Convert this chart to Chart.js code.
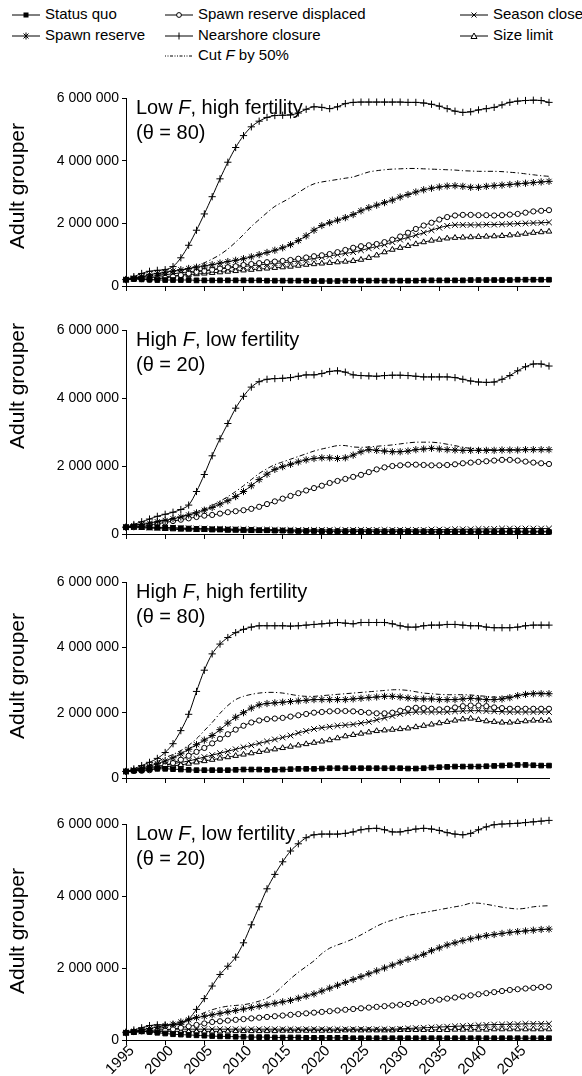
<!DOCTYPE html>
<html>
<head>
<meta charset="utf-8">
<script src="https://cdn.jsdelivr.net/npm/chart.js@4.4.0/dist/chart.umd.min.js"></script>
<style>
  body { margin: 0; background: #fff; font-family: 'Liberation Sans', Arial, sans-serif; }
  #page { position: relative; width: 582px; height: 1076px; overflow: hidden; background: #fff; }
  .panel { position: absolute; left: 0; }
  .item { position: absolute; height: 20px; line-height: 20px; font-size: 15px; white-space: nowrap;
          display: flex; align-items: center; color: #000; }
  .item svg { margin-right: 5px; margin-top: 2px; }
</style>
</head>
<body>
<div id="page">
  <div id="legend"></div>
  <div class="panel" id="w1"><canvas id="c1"></canvas></div>
  <div class="panel" id="w2"><canvas id="c2"></canvas></div>
  <div class="panel" id="w3"><canvas id="c3"></canvas></div>
  <div class="panel" id="w4"><canvas id="c4"></canvas></div>
</div>
<script>
// Adult grouper abundance under management scenarios (values in millions)

const years = [
	1995, 1996, 1997, 1998, 1999, 2000, 2001, 2002, 2003, 2004,
	2005, 2006, 2007, 2008, 2009, 2010, 2011, 2012, 2013, 2014,
	2015, 2016, 2017, 2018, 2019, 2020, 2021, 2022, 2023, 2024,
	2025, 2026, 2027, 2028, 2029, 2030, 2031, 2032, 2033, 2034,
	2035, 2036, 2037, 2038, 2039, 2040, 2041, 2042, 2043, 2044,
	2045, 2046, 2047, 2048, 2049
];
const xTicks = [1995, 2000, 2005, 2010, 2015, 2020, 2025, 2030, 2035, 2040, 2045];
const yTicks = [0, 2, 4, 6];

const seriesNames = ['Status quo', 'Spawn reserve', 'Spawn reserve displaced', 'Nearshore closure',
	'Cut F by 50%', 'Season close', 'Size limit'];

// --- Low F, high fertility (theta = 80)
const p1StatusQuo = [
	0.20, 0.22, 0.21, 0.20, 0.19, 0.19, 0.19, 0.19, 0.19, 0.18,
	0.18, 0.18, 0.18, 0.18, 0.18, 0.18, 0.18, 0.18, 0.17, 0.17,
	0.17, 0.17, 0.17, 0.17, 0.16, 0.16, 0.16, 0.16, 0.17, 0.17,
	0.17, 0.17, 0.17, 0.17, 0.17, 0.17, 0.17, 0.17, 0.18, 0.18,
	0.18, 0.18, 0.18, 0.18, 0.19, 0.19, 0.19, 0.19, 0.19, 0.19,
	0.20, 0.20, 0.20, 0.20, 0.20
];
const p1SpawnRes = [
	0.20, 0.25, 0.30, 0.36, 0.40, 0.44, 0.48, 0.52, 0.56, 0.60,
	0.64, 0.68, 0.73, 0.78, 0.82, 0.87, 0.93, 1.00, 1.07, 1.14,
	1.22, 1.32, 1.45, 1.60, 1.78, 1.93, 2.02, 2.10, 2.18, 2.28,
	2.40, 2.50, 2.58, 2.66, 2.74, 2.84, 2.92, 3.00, 3.07, 3.12,
	3.16, 3.19, 3.20, 3.18, 3.15, 3.15, 3.18, 3.20, 3.22, 3.24,
	3.26, 3.28, 3.30, 3.32, 3.34
];
const p1Displaced = [
	0.20, 0.24, 0.22, 0.20, 0.22, 0.26, 0.30, 0.35, 0.40, 0.45,
	0.48, 0.52, 0.56, 0.60, 0.63, 0.67, 0.70, 0.73, 0.76, 0.78,
	0.80, 0.83, 0.87, 0.91, 0.95, 0.98, 1.02, 1.08, 1.15, 1.22,
	1.27, 1.30, 1.34, 1.40, 1.48, 1.58, 1.70, 1.82, 1.93, 2.02,
	2.12, 2.20, 2.25, 2.27, 2.27, 2.26, 2.26, 2.25, 2.26, 2.28,
	2.30, 2.34, 2.38, 2.40, 2.42
];
const p1Nearshore = [
	0.21, 0.30, 0.40, 0.47, 0.50, 0.52, 0.62, 0.90, 1.30, 1.78,
	2.30, 2.85, 3.42, 3.95, 4.42, 4.80, 5.08, 5.26, 5.38, 5.44,
	5.45, 5.46, 5.52, 5.64, 5.72, 5.70, 5.66, 5.72, 5.82, 5.86,
	5.87, 5.87, 5.87, 5.87, 5.87, 5.87, 5.86, 5.86, 5.84, 5.80,
	5.74, 5.66, 5.58, 5.54, 5.56, 5.62, 5.66, 5.70, 5.78, 5.86,
	5.90, 5.92, 5.93, 5.92, 5.86
];
const p1CutF = [
	0.20, 0.24, 0.28, 0.32, 0.36, 0.40, 0.45, 0.50, 0.56, 0.64,
	0.74, 0.86, 1.00, 1.18, 1.40, 1.64, 1.90, 2.12, 2.34, 2.54,
	2.68, 2.82, 2.98, 3.14, 3.26, 3.32, 3.36, 3.40, 3.44, 3.48,
	3.56, 3.64, 3.68, 3.71, 3.73, 3.74, 3.75, 3.75, 3.74, 3.73,
	3.72, 3.71, 3.70, 3.68, 3.67, 3.66, 3.66, 3.66, 3.65, 3.63,
	3.61, 3.58, 3.55, 3.52, 3.50
];
const p1SeasonClose = [
	0.20, 0.24, 0.28, 0.30, 0.33, 0.36, 0.39, 0.42, 0.45, 0.48,
	0.50, 0.52, 0.55, 0.57, 0.60, 0.62, 0.65, 0.67, 0.70, 0.72,
	0.74, 0.77, 0.80, 0.84, 0.88, 0.92, 0.96, 1.00, 1.04, 1.08,
	1.14, 1.20, 1.26, 1.32, 1.40, 1.48, 1.55, 1.62, 1.70, 1.78,
	1.86, 1.92, 1.95, 1.95, 1.95, 1.95, 1.96, 1.96, 1.97, 1.98,
	1.99, 2.00, 2.01, 2.02, 2.03
];
const p1SizeLimit = [
	0.20, 0.22, 0.24, 0.26, 0.28, 0.30, 0.32, 0.34, 0.36, 0.38,
	0.40, 0.42, 0.44, 0.46, 0.48, 0.50, 0.52, 0.54, 0.56, 0.58,
	0.60, 0.62, 0.65, 0.68, 0.70, 0.72, 0.74, 0.76, 0.78, 0.80,
	0.84, 0.90, 0.98, 1.08, 1.16, 1.22, 1.28, 1.34, 1.40, 1.45,
	1.48, 1.52, 1.54, 1.55, 1.56, 1.57, 1.58, 1.59, 1.60, 1.62,
	1.64, 1.67, 1.70, 1.72, 1.74
];

// --- High F, low fertility (theta = 20)
const p2StatusQuo = [
	0.20, 0.22, 0.22, 0.20, 0.20, 0.19, 0.18, 0.17, 0.16, 0.15,
	0.15, 0.14, 0.14, 0.13, 0.13, 0.12, 0.12, 0.11, 0.11, 0.10,
	0.10, 0.10, 0.09, 0.09, 0.09, 0.08, 0.08, 0.08, 0.08, 0.08,
	0.07, 0.07, 0.07, 0.07, 0.07, 0.07, 0.07, 0.06, 0.06, 0.06,
	0.06, 0.06, 0.06, 0.06, 0.06, 0.06, 0.06, 0.06, 0.06, 0.06,
	0.06, 0.06, 0.06, 0.06, 0.06
];
const p2SpawnRes = [
	0.20, 0.24, 0.28, 0.32, 0.36, 0.40, 0.45, 0.50, 0.56, 0.62,
	0.70, 0.78, 0.88, 0.98, 1.10, 1.25, 1.42, 1.60, 1.76, 1.90,
	1.98, 2.05, 2.12, 2.18, 2.22, 2.24, 2.24, 2.22, 2.24, 2.32,
	2.42, 2.48, 2.46, 2.44, 2.42, 2.42, 2.44, 2.48, 2.50, 2.52,
	2.50, 2.48, 2.47, 2.46, 2.46, 2.46, 2.46, 2.46, 2.47, 2.47,
	2.47, 2.48, 2.48, 2.48, 2.48
];
const p2Displaced = [
	0.20, 0.20, 0.22, 0.26, 0.30, 0.34, 0.38, 0.42, 0.46, 0.50,
	0.54, 0.56, 0.60, 0.64, 0.67, 0.70, 0.74, 0.80, 0.88, 0.96,
	1.04, 1.12, 1.20, 1.28, 1.35, 1.42, 1.50, 1.56, 1.62, 1.68,
	1.74, 1.82, 1.90, 1.96, 2.00, 2.02, 2.04, 2.04, 2.03, 2.02,
	2.02, 2.03, 2.05, 2.08, 2.10, 2.12, 2.14, 2.16, 2.18, 2.18,
	2.16, 2.13, 2.10, 2.08, 2.06
];
const p2Nearshore = [
	0.20, 0.28, 0.36, 0.44, 0.52, 0.58, 0.64, 0.72, 0.85, 1.25,
	1.75, 2.30, 2.80, 3.25, 3.70, 4.05, 4.32, 4.48, 4.55, 4.57,
	4.58, 4.60, 4.64, 4.68, 4.68, 4.72, 4.78, 4.80, 4.76, 4.68,
	4.66, 4.65, 4.64, 4.66, 4.67, 4.67, 4.66, 4.64, 4.62, 4.62,
	4.62, 4.62, 4.60, 4.55, 4.50, 4.47, 4.46, 4.47, 4.55, 4.66,
	4.80, 4.92, 5.00, 5.00, 4.94
];
const p2CutF = [
	0.20, 0.25, 0.30, 0.34, 0.38, 0.42, 0.47, 0.52, 0.58, 0.66,
	0.74, 0.84, 0.96, 1.10, 1.25, 1.42, 1.60, 1.78, 1.92, 2.04,
	2.12, 2.20, 2.28, 2.36, 2.44, 2.50, 2.55, 2.60, 2.60, 2.56,
	2.55, 2.56, 2.58, 2.60, 2.62, 2.65, 2.68, 2.70, 2.70, 2.70,
	2.68, 2.64, 2.60, 2.55, 2.52, 2.50, 2.48, 2.48, 2.48, 2.48,
	2.48, 2.48, 2.48, 2.48, 2.48
];
const p2SeasonClose = [
	0.20, 0.20, 0.20, 0.19, 0.19, 0.18, 0.18, 0.17, 0.17, 0.16,
	0.16, 0.15, 0.15, 0.15, 0.14, 0.14, 0.14, 0.13, 0.13, 0.13,
	0.12, 0.12, 0.12, 0.12, 0.12, 0.12, 0.12, 0.12, 0.12, 0.12,
	0.12, 0.12, 0.12, 0.12, 0.12, 0.12, 0.12, 0.12, 0.12, 0.13,
	0.13, 0.13, 0.14, 0.14, 0.14, 0.15, 0.15, 0.15, 0.16, 0.16,
	0.16, 0.16, 0.16, 0.16, 0.16
];
const p2SizeLimit = [
	0.20, 0.19, 0.18, 0.17, 0.16, 0.15, 0.14, 0.13, 0.13, 0.12,
	0.12, 0.11, 0.11, 0.10, 0.10, 0.10, 0.09, 0.09, 0.09, 0.09,
	0.09, 0.08, 0.08, 0.08, 0.08, 0.08, 0.08, 0.08, 0.08, 0.08,
	0.08, 0.08, 0.08, 0.08, 0.08, 0.08, 0.08, 0.08, 0.08, 0.08,
	0.08, 0.08, 0.08, 0.08, 0.08, 0.08, 0.08, 0.08, 0.08, 0.08,
	0.08, 0.08, 0.08, 0.08, 0.08
];

// --- High F, high fertility (theta = 80)
const p3StatusQuo = [
	0.20, 0.22, 0.24, 0.26, 0.28, 0.28, 0.27, 0.26, 0.25, 0.24,
	0.24, 0.24, 0.24, 0.24, 0.25, 0.26, 0.26, 0.26, 0.25, 0.25,
	0.26, 0.27, 0.28, 0.28, 0.28, 0.29, 0.30, 0.30, 0.30, 0.30,
	0.30, 0.30, 0.30, 0.30, 0.30, 0.30, 0.29, 0.29, 0.30, 0.32,
	0.33, 0.34, 0.35, 0.35, 0.35, 0.35, 0.36, 0.37, 0.38, 0.39,
	0.40, 0.40, 0.39, 0.38, 0.38
];
const p3SpawnRes = [
	0.20, 0.24, 0.30, 0.36, 0.44, 0.52, 0.62, 0.74, 0.88, 1.02,
	1.16, 1.30, 1.48, 1.68, 1.86, 2.00, 2.14, 2.24, 2.28, 2.30,
	2.32, 2.34, 2.36, 2.38, 2.40, 2.40, 2.40, 2.40, 2.40, 2.42,
	2.44, 2.46, 2.48, 2.50, 2.50, 2.48, 2.45, 2.43, 2.42, 2.42,
	2.40, 2.40, 2.40, 2.42, 2.44, 2.42, 2.40, 2.40, 2.42, 2.46,
	2.52, 2.56, 2.58, 2.58, 2.58
];
const p3Displaced = [
	0.20, 0.22, 0.22, 0.24, 0.30, 0.38, 0.46, 0.56, 0.68, 0.80,
	0.92, 1.06, 1.20, 1.34, 1.48, 1.60, 1.70, 1.76, 1.80, 1.82,
	1.84, 1.88, 1.92, 1.96, 2.00, 2.02, 2.04, 2.05, 2.05, 2.04,
	2.02, 2.00, 1.98, 1.98, 2.00, 2.06, 2.12, 2.15, 2.14, 2.12,
	2.10, 2.12, 2.16, 2.20, 2.22, 2.22, 2.20, 2.16, 2.14, 2.12,
	2.12, 2.12, 2.12, 2.12, 2.12
];
const p3Nearshore = [
	0.20, 0.28, 0.38, 0.48, 0.60, 0.78, 1.05, 1.45, 1.95, 2.65,
	3.30, 3.80, 4.10, 4.30, 4.45, 4.55, 4.62, 4.66, 4.66, 4.66,
	4.66, 4.65, 4.66, 4.68, 4.70, 4.72, 4.74, 4.76, 4.74, 4.72,
	4.76, 4.76, 4.76, 4.76, 4.72, 4.66, 4.62, 4.62, 4.66, 4.68,
	4.68, 4.70, 4.70, 4.68, 4.66, 4.66, 4.62, 4.60, 4.60, 4.60,
	4.62, 4.66, 4.68, 4.68, 4.68
];
const p3CutF = [
	0.20, 0.26, 0.32, 0.40, 0.50, 0.62, 0.72, 0.84, 1.00, 1.20,
	1.45, 1.70, 1.98, 2.22, 2.40, 2.50, 2.56, 2.60, 2.62, 2.62,
	2.60, 2.56, 2.52, 2.50, 2.50, 2.52, 2.54, 2.56, 2.58, 2.60,
	2.62, 2.64, 2.66, 2.68, 2.70, 2.70, 2.68, 2.64, 2.60, 2.58,
	2.56, 2.55, 2.55, 2.55, 2.54, 2.52, 2.50, 2.48, 2.48, 2.50,
	2.54, 2.58, 2.60, 2.60, 2.60
];
const p3SeasonClose = [
	0.20, 0.24, 0.28, 0.32, 0.36, 0.40, 0.44, 0.48, 0.52, 0.58,
	0.64, 0.70, 0.76, 0.82, 0.88, 0.94, 1.00, 1.06, 1.12, 1.18,
	1.24, 1.30, 1.38, 1.44, 1.50, 1.54, 1.57, 1.60, 1.62, 1.64,
	1.68, 1.72, 1.78, 1.84, 1.90, 1.96, 2.00, 2.02, 2.02, 2.02,
	2.02, 2.02, 2.04, 2.05, 2.06, 2.06, 2.05, 2.04, 2.03, 2.02,
	2.02, 2.02, 2.02, 2.02, 2.02
];
const p3SizeLimit = [
	0.20, 0.22, 0.26, 0.30, 0.32, 0.34, 0.37, 0.40, 0.44, 0.48,
	0.52, 0.56, 0.60, 0.64, 0.68, 0.72, 0.76, 0.80, 0.84, 0.88,
	0.92, 0.96, 1.00, 1.04, 1.08, 1.12, 1.16, 1.22, 1.28, 1.32,
	1.36, 1.40, 1.44, 1.46, 1.48, 1.50, 1.52, 1.56, 1.60, 1.64,
	1.68, 1.72, 1.76, 1.80, 1.82, 1.78, 1.74, 1.72, 1.70, 1.70,
	1.72, 1.74, 1.76, 1.76, 1.76
];

// --- Low F, low fertility (theta = 20)
const p4StatusQuo = [
	0.20, 0.22, 0.24, 0.22, 0.20, 0.18, 0.16, 0.15, 0.14, 0.13,
	0.12, 0.11, 0.10, 0.10, 0.09, 0.09, 0.08, 0.08, 0.08, 0.07,
	0.07, 0.07, 0.07, 0.06, 0.06, 0.06, 0.06, 0.06, 0.06, 0.05,
	0.05, 0.05, 0.05, 0.05, 0.05, 0.05, 0.05, 0.05, 0.05, 0.05,
	0.05, 0.05, 0.05, 0.05, 0.05, 0.05, 0.05, 0.05, 0.05, 0.05,
	0.05, 0.05, 0.05, 0.05, 0.05
];
const p4SpawnRes = [
	0.20, 0.24, 0.28, 0.32, 0.36, 0.40, 0.44, 0.50, 0.56, 0.62,
	0.66, 0.70, 0.74, 0.78, 0.82, 0.86, 0.90, 0.94, 0.98, 1.02,
	1.06, 1.10, 1.16, 1.22, 1.28, 1.36, 1.44, 1.52, 1.60, 1.68,
	1.76, 1.84, 1.92, 2.00, 2.08, 2.16, 2.24, 2.30, 2.38, 2.48,
	2.56, 2.64, 2.70, 2.76, 2.81, 2.86, 2.90, 2.93, 2.96, 2.99,
	3.01, 3.03, 3.05, 3.07, 3.08
];
const p4Displaced = [
	0.20, 0.22, 0.24, 0.24, 0.24, 0.26, 0.30, 0.34, 0.38, 0.42,
	0.46, 0.50, 0.52, 0.54, 0.56, 0.58, 0.60, 0.62, 0.64, 0.66,
	0.68, 0.70, 0.72, 0.74, 0.76, 0.78, 0.80, 0.82, 0.84, 0.86,
	0.88, 0.90, 0.92, 0.94, 0.96, 0.98, 1.00, 1.03, 1.06, 1.09,
	1.12, 1.15, 1.18, 1.21, 1.24, 1.27, 1.30, 1.33, 1.36, 1.39,
	1.41, 1.43, 1.45, 1.47, 1.48
];
const p4Nearshore = [
	0.22, 0.28, 0.34, 0.40, 0.42, 0.42, 0.42, 0.44, 0.58, 0.85,
	1.15, 1.50, 1.82, 2.05, 2.30, 2.70, 3.20, 3.70, 4.20, 4.60,
	4.95, 5.25, 5.45, 5.62, 5.70, 5.72, 5.72, 5.72, 5.74, 5.78,
	5.84, 5.87, 5.88, 5.84, 5.78, 5.78, 5.82, 5.86, 5.88, 5.86,
	5.82, 5.76, 5.72, 5.70, 5.74, 5.84, 5.92, 5.98, 6.00, 6.01,
	6.02, 6.04, 6.06, 6.08, 6.10
];
const p4CutF = [
	0.20, 0.24, 0.28, 0.30, 0.32, 0.35, 0.40, 0.48, 0.56, 0.66,
	0.76, 0.84, 0.90, 0.94, 0.96, 0.98, 1.02, 1.08, 1.16, 1.30,
	1.50, 1.70, 1.88, 2.04, 2.20, 2.40, 2.55, 2.64, 2.72, 2.81,
	2.92, 3.04, 3.16, 3.26, 3.33, 3.40, 3.46, 3.50, 3.54, 3.58,
	3.62, 3.66, 3.70, 3.74, 3.80, 3.80, 3.77, 3.73, 3.69, 3.66,
	3.64, 3.66, 3.70, 3.72, 3.73
];
const p4SeasonClose = [
	0.20, 0.22, 0.24, 0.26, 0.28, 0.29, 0.30, 0.30, 0.30, 0.30,
	0.30, 0.30, 0.30, 0.30, 0.30, 0.30, 0.30, 0.30, 0.30, 0.30,
	0.30, 0.30, 0.30, 0.30, 0.30, 0.30, 0.30, 0.30, 0.30, 0.30,
	0.30, 0.30, 0.30, 0.30, 0.30, 0.31, 0.32, 0.33, 0.34, 0.35,
	0.36, 0.37, 0.38, 0.39, 0.40, 0.41, 0.42, 0.43, 0.43, 0.44,
	0.44, 0.45, 0.45, 0.45, 0.45
];
const p4SizeLimit = [
	0.20, 0.22, 0.23, 0.24, 0.24, 0.24, 0.24, 0.24, 0.24, 0.24,
	0.24, 0.24, 0.24, 0.24, 0.25, 0.25, 0.25, 0.25, 0.25, 0.25,
	0.26, 0.26, 0.26, 0.26, 0.26, 0.26, 0.26, 0.26, 0.27, 0.27,
	0.27, 0.27, 0.27, 0.27, 0.27, 0.28, 0.28, 0.28, 0.28, 0.28,
	0.28, 0.28, 0.29, 0.29, 0.29, 0.29, 0.29, 0.30, 0.30, 0.30,
	0.30, 0.30, 0.30, 0.30, 0.30
];

const panels = [
	{ note: [['Low ', false], ['F', true], [', high fertility', false]], theta: '(\u03b8 = 80)',
	  top: 98, bottom: 286, titleY: 186,
	  series: [p1StatusQuo, p1SpawnRes, p1Displaced, p1Nearshore, p1CutF, p1SeasonClose, p1SizeLimit] },
	{ note: [['High ', false], ['F', true], [', low fertility', false]], theta: '(\u03b8 = 20)',
	  top: 330, bottom: 534, titleY: 386,
	  series: [p2StatusQuo, p2SpawnRes, p2Displaced, p2Nearshore, p2CutF, p2SeasonClose, p2SizeLimit] },
	{ note: [['High ', false], ['F', true], [', high fertility', false]], theta: '(\u03b8 = 80)',
	  top: 582, bottom: 778, titleY: 676,
	  series: [p3StatusQuo, p3SpawnRes, p3Displaced, p3Nearshore, p3CutF, p3SeasonClose, p3SizeLimit] },
	{ note: [['Low ', false], ['F', true], [', low fertility', false]], theta: '(\u03b8 = 20)',
	  top: 824, bottom: 1040, titleY: 931,
	  series: [p4StatusQuo, p4SpawnRes, p4Displaced, p4Nearshore, p4CutF, p4SeasonClose, p4SizeLimit] }
];

// marker look for each scenario
const markStyles = [
	{ pointStyle: 'rect', radius: 3.3, fill: '#000' },
	{ pointStyle: 'star', radius: 3.6, fill: '#fff' },
	{ pointStyle: 'circle', radius: 2.6, fill: '#fff' },
	{ pointStyle: 'cross', radius: 3.6, fill: '#fff' },
	{ pointStyle: false, radius: 0, fill: '#fff', dash: [5, 2.5, 1.2, 2.5] },
	{ pointStyle: 'crossRot', radius: 4, fill: '#fff' },
	{ pointStyle: 'triangle', radius: 3.2, fill: '#fff' }
];

const FONT = "'Liberation Sans', Arial, sans-serif";
const PAD_TOP = 12;
const PLOT_LEFT = 126;
const PLOT_RIGHT = 549;
const X_MAX = 2049;

function fmtNum(v) {
	return String(Math.round(v * 1000000)).replace(/\B(?=(\d{3})+(?!\d))/g, ' ');
}

// ---------- legend ----------
const legendSlots = [
	[12, 4], [12, 25], [165, 4], [165, 25], [165, 45], [460, 4], [460, 25]
];

function glyph(i) {
	const s = markStyles[i];
	const line = '<line x1="0" y1="6" x2="28" y2="6" stroke="#000" stroke-width="1"' +
		(s.dash ? ' stroke-dasharray="1 1.5 1 1.5 3 1.5"' : '') + '/>';
	let mark = '';
	switch (s.pointStyle) {
		case 'rect': mark = '<rect x="11.5" y="3.5" width="5" height="5" fill="#000"/>'; break;
		case 'star': mark = '<path d="M14 2.5V9.5M11.5 3.5L16.5 8.5M16.5 3.5L11.5 8.5" stroke="#000"/>'; break;
		case 'circle': mark = '<circle cx="14" cy="6" r="2.4" fill="#fff" stroke="#000"/>'; break;
		case 'cross': mark = '<path d="M14 2.5V9.5" stroke="#000"/>'; break;
		case 'crossRot': mark = '<path d="M11.5 3.5L16.5 8.5M16.5 3.5L11.5 8.5" stroke="#000"/>'; break;
		case 'triangle': mark = '<path d="M14 3L17 8.5H11Z" fill="#fff" stroke="#000"/>'; break;
	}
	return '<svg width="28" height="12" viewBox="0 0 28 12">' + line + mark + '</svg>';
}

function buildLegend() {
	const el = document.getElementById('legend');
	seriesNames.forEach((name, i) => {
		const item = document.createElement('div');
		item.className = 'item';
		item.style.left = legendSlots[i][0] + 'px';
		item.style.top = legendSlots[i][1] + 'px';
		const label = name === 'Cut F by 50%' ? 'Cut <i>F</i> by 50%' : name;
		item.innerHTML = glyph(i) + '<span>' + label + '</span>';
		el.appendChild(item);
	});
}

// ---------- panel notes + y title ----------
function notesPlugin(p, canvasTop) {
	return {
		id: 'panelNotes',
		afterDraw(chart) {
			const { ctx, chartArea } = chart;
			ctx.save();
			ctx.fillStyle = '#000';
			ctx.textBaseline = 'alphabetic';
			ctx.textAlign = 'left';
			let x = chartArea.left + 10;
			p.note.forEach(([txt, italic]) => {
				ctx.font = (italic ? 'italic ' : '') + '20px ' + FONT;
				ctx.fillText(txt, x, chartArea.top + 16);
				x += ctx.measureText(txt).width;
			});
			ctx.font = '20px ' + FONT;
			ctx.fillText(p.theta, chartArea.left + 10, chartArea.top + 41);

			ctx.translate(18, p.titleY - canvasTop);
			ctx.rotate(-Math.PI / 2);
			ctx.textAlign = 'center';
			ctx.textBaseline = 'middle';
			ctx.font = '21px ' + FONT;
			ctx.fillText('Adult grouper', 0, 0);
			ctx.restore();
		}
	};
}

function buildPanel(p, idx) {
	const isLast = idx === panels.length - 1;
	const xh = isLast ? 36 : 10;
	const canvasTop = p.top - PAD_TOP;
	const height = p.bottom - p.top + PAD_TOP + xh;
	const wrap = document.getElementById('w' + (idx + 1));
	wrap.style.top = canvasTop + 'px';
	const canvas = document.getElementById('c' + (idx + 1));
	canvas.width = 582;
	canvas.height = height;

	const datasets = seriesNames.map((name, i) => {
		const s = markStyles[i];
		return {
			label: name,
			data: years.map((yr, k) => ({ x: yr, y: p.series[i][k] })),
			borderColor: '#000',
			borderWidth: 1,
			borderDash: s.dash || [],
			pointStyle: s.pointStyle,
			pointRadius: s.radius,
			pointBorderColor: '#000',
			pointBackgroundColor: s.fill,
			pointBorderWidth: 1,
			tension: 0.3,
			fill: false,
			clip: false
		};
	});

	new Chart(canvas, {
		type: 'line',
		data: { datasets },
		options: {
			responsive: false,
			animation: false,
			events: [],
			layout: { padding: { top: PAD_TOP, right: 582 - PLOT_RIGHT, left: 0, bottom: 0 } },
			plugins: { legend: { display: false }, tooltip: { enabled: false } },
			scales: {
				x: {
					type: 'linear',
					min: 1995,
					max: X_MAX,
					afterBuildTicks: s => { s.ticks = xTicks.map(v => ({ value: v })); },
					afterFit: s => { s.height = xh; s.paddingLeft = 0; s.paddingRight = 0; },
					grid: { display: true, drawOnChartArea: false, drawTicks: true, tickLength: 5, color: '#000' },
					border: { display: true, color: '#000', width: 1 },
					ticks: {
						display: isLast,
						autoSkip: false,
						minRotation: 45,
						maxRotation: 45,
						padding: -3,
						labelOffset: 6,
						color: '#000',
						font: { family: FONT, size: 15 },
						callback: v => String(v)
					}
				},
				y: {
					min: 0,
					max: 6,
					afterBuildTicks: s => { s.ticks = yTicks.map(v => ({ value: v })); },
					afterFit: s => { s.width = PLOT_LEFT; s.paddingTop = 0; s.paddingBottom = 0; },
					grid: { display: true, drawOnChartArea: false, drawTicks: true, tickLength: 4, color: '#000' },
					border: { display: true, color: '#000', width: 1 },
					ticks: {
						padding: 3,
						color: '#000',
						font: { family: FONT, size: 14 },
						callback: v => fmtNum(v)
					}
				}
			}
		},
		plugins: [notesPlugin(p, canvasTop)]
	});
}

window.addEventListener('DOMContentLoaded', () => {
	buildLegend();
	panels.forEach(buildPanel);
});
</script>
</body>
</html>
